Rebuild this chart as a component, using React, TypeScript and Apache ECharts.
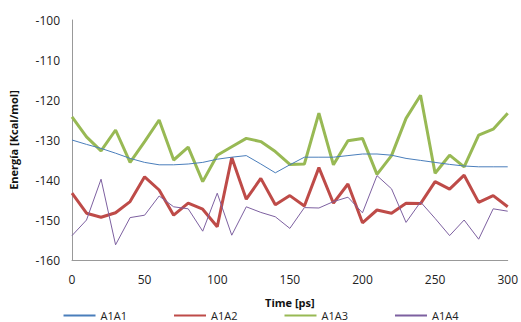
import React, { useEffect, useRef } from "react";
import * as echarts from "echarts";

const times = [0, 10, 20, 30, 40, 50, 60, 70, 80, 90, 100, 110, 120, 130, 140, 150, 160, 170, 180, 190, 200, 210, 220, 230, 240, 250, 260, 270, 280, 290, 300];

const a1a1 = [-130, -131.1, -132.1, -133.3, -134.6, -135.6, -136.2, -136.2, -136, -135.6, -134.8, -134.3, -133.9, -136, -138.2, -136.2, -134.3, -134.3, -134.3, -133.9, -133.5, -133.5, -133.8, -134.6, -135.1, -135.6, -136.1, -136.5, -136.7, -136.7, -136.7];

const a1a2 = [-143.3, -148.3, -149.3, -148.2, -145.4, -139.2, -142.5, -148.8, -145.8, -147.3, -151.7, -134.4, -144.8, -139.6, -146.2, -143.9, -146.5, -136.9, -145.8, -141, -150.7, -147.5, -148.3, -145.8, -145.9, -140.4, -142.3, -138.8, -145.6, -143.9, -146.7];

const a1a3 = [-124.2, -129.2, -132.7, -127.5, -135.6, -130.4, -125, -135, -131.8, -140.4, -133.8, -131.7, -129.6, -130.4, -132.9, -136.1, -136, -123.3, -136.2, -130.2, -129.6, -138.6, -133.9, -124.6, -118.8, -138.3, -133.8, -136.7, -128.8, -127.3, -123.3];

const a1a4 = [-153.9, -150, -139.8, -156.2, -149.4, -148.8, -144, -146.7, -147.2, -152.8, -143.3, -153.8, -146.7, -148.1, -149.2, -152.1, -146.9, -147, -145.4, -144.3, -148.2, -138.9, -142.2, -150.6, -145.5, -149.6, -153.9, -150, -154.8, -147.2, -147.8];

const seriesNames = ["A1A1", "A1A2", "A1A3", "A1A4"];
const seriesColors = ["#4A7EBB", "#BE4B48", "#98B954", "#7D60A0"];
const seriesWidths = [1, 3, 3, 1];
const seriesValues = [a1a1, a1a2, a1a3, a1a4];

const FONT = "'Open Sans', 'Liberation Sans', sans-serif";

export default function App() {
  const ref = useRef<HTMLDivElement>(null);
  useEffect(() => {
    if (!ref.current) return;
    const chart = echarts.init(ref.current, null, { renderer: "svg" });
    chart.setOption({
      animation: false,
      backgroundColor: "#ffffff",
      textStyle: { fontFamily: FONT },
      grid: { left: 71, right: 11, top: 20, bottom: 62, containLabel: false },
      legend: {
        bottom: -4,
        left: "center",
        itemGap: 46,
        itemWidth: 32,
        itemHeight: 10,
        itemStyle: { opacity: 0, borderWidth: 0 },
        textStyle: { fontSize: 11, color: "#222", fontFamily: FONT },
        data: seriesNames,
      },
      xAxis: {
        type: "value",
        min: 0,
        max: 300,
        interval: 50,
        name: "Time [ps]",
        nameLocation: "middle",
        nameGap: 37,
        nameTextStyle: { fontWeight: "bold", fontSize: 11, color: "#111", fontFamily: FONT },
        axisLine: { show: true, lineStyle: { color: "#999", width: 1 } },
        axisTick: { show: false },
        splitLine: { show: false },
        axisLabel: { fontSize: 12, color: "#222", margin: 13, fontFamily: FONT },
      },
      yAxis: {
        type: "value",
        min: -160,
        max: -100,
        interval: 10,
        name: "Energía [Kcal/mol]",
        nameLocation: "middle",
        nameGap: 53,
        nameRotate: 90,
        nameTextStyle: { fontWeight: "bold", fontSize: 11, color: "#111", fontFamily: FONT },
        axisLine: { show: true, lineStyle: { color: "#999", width: 1 } },
        axisTick: { show: false },
        splitLine: { show: false },
        axisLabel: { fontSize: 12, color: "#222", margin: 12, fontFamily: FONT },
      },
      series: seriesNames.map((name, k) => ({
        name,
        type: "line",
        symbol: "none",
        showSymbol: false,
        data: times.map((t, i) => [t, seriesValues[k][i]]),
        lineStyle: { color: seriesColors[k], width: seriesWidths[k] },
        itemStyle: { color: seriesColors[k] },
        z: k === 0 ? 3 : k === 3 ? 4 : 2,
      })),
    });
    return () => chart.dispose();
  }, []);
  return (
    <div
      ref={ref}
      style={{ position: "fixed", left: 0, top: 0, width: 521, height: 322 }}
    />
  );
}
